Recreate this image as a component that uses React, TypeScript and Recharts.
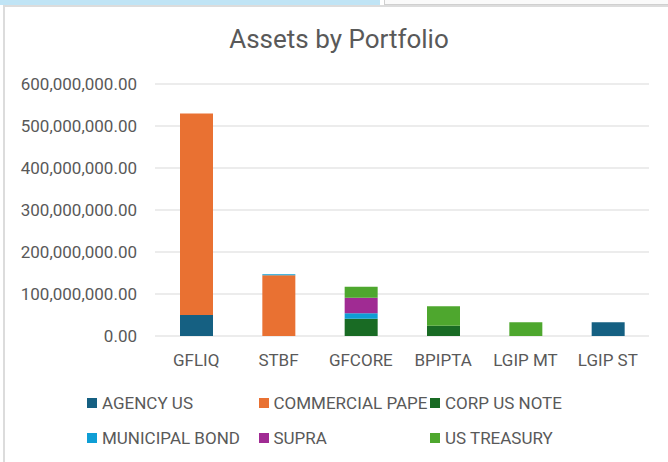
import React from "react";
import { BarChart, Bar, XAxis, YAxis, CartesianGrid } from "recharts";

const portfolios = ["GFLIQ", "STBF", "GFCORE", "BPIPTA", "LGIP MT", "LGIP ST"];
const agencyUS = [50000000, 0, 0, 0, 0, 33000000];
const commercialPaper = [480000000, 144500000, 0, 0, 0, 0];
const corpUSNote = [0, 0, 41000000, 24500000, 0, 0];
const municipalBond = [0, 2500000, 13000000, 0, 0, 0];
const supra = [0, 0, 37000000, 0, 0, 0];
const usTreasury = [0, 0, 26000000, 46500000, 33000000, 0];
const yTicks = [0, 100000000, 200000000, 300000000, 400000000, 500000000, 600000000];

const seriesDefs = [
  { key: "agency", name: "AGENCY US", values: agencyUS, color: "#156082" },
  { key: "commercial", name: "COMMERCIAL PAPE", values: commercialPaper, color: "#E97132" },
  { key: "corp", name: "CORP US NOTE", values: corpUSNote, color: "#196B24" },
  { key: "municipal", name: "MUNICIPAL BOND", values: municipalBond, color: "#0F9ED5" },
  { key: "supra", name: "SUPRA", values: supra, color: "#A02B93" },
  { key: "treasury", name: "US TREASURY", values: usTreasury, color: "#4EA72E" },
];

const data = portfolios.map((p, i) => {
  const row: Record<string, any> = { name: p };
  seriesDefs.forEach((s) => {
    row[s.key] = s.values[i];
  });
  return row;
});

const fmt = (v: number) =>
  v.toLocaleString("en-US", { minimumFractionDigits: 2, maximumFractionDigits: 2 });

const textColor = "#595959";
const font = "Roboto, 'Liberation Sans', sans-serif";

const LegendBlock = () => (
  <div style={{ position: "absolute", left: 0, top: 393, width: 668, height: 60, fontFamily: font }}>
    {seriesDefs.map((s, i) => {
      const col = i % 3;
      const row = Math.floor(i / 3);
      const left = 87 + col * 171.5;
      const top = row * 34.5;
      return (
        <div
          key={s.key}
          style={{
            position: "absolute",
            left,
            top,
            height: 20,
            display: "flex",
            alignItems: "center",
            whiteSpace: "nowrap",
          }}
        >
          <div style={{ width: 10, height: 10, background: s.color, marginRight: 5 }} />
          <span style={{ fontSize: 17, color: textColor, lineHeight: "20px" }}>{s.name}</span>
        </div>
      );
    })}
  </div>
);

export default function App() {
  return (
    <div style={{ position: "absolute", left: 0, top: 0, width: 668, height: 462, background: "#fff", overflow: "hidden" }}>
      <div style={{ position: "absolute", left: 0, top: 0, width: 380, height: 5, background: "#c0e4f5" }} />
      <div style={{ position: "absolute", left: 384, top: -2, width: 290, height: 5, border: "1px solid #d0d0d0", background: "#fafafa" }} />
      <div style={{ position: "absolute", left: 3, top: 5, width: 670, height: 460, borderTop: "2px solid #dcdcdc", borderLeft: "2px solid #dcdcdc" }} />
      <div
        style={{
          position: "absolute",
          left: 0,
          width: 678,
          top: 23,
          textAlign: "center",
          fontFamily: font,
          fontSize: 26,
          color: textColor,
          lineHeight: "32px",
        }}
      >
        Assets by Portfolio
      </div>
      <div style={{ position: "absolute", left: 0, top: 0 }}>
        <BarChart
          width={668}
          height={462}
          data={data}
          margin={{ top: 84, right: 19, bottom: 96, left: 0 }}
          barSize={33}
        >
          <CartesianGrid vertical={false} stroke="#d9d9d9" strokeWidth={1} />
          <XAxis
            dataKey="name"
            axisLine={false}
            tickLine={false}
            height={30}
            tickMargin={12}
            interval={0}
            tick={{ fill: textColor, fontSize: 17, fontFamily: font }}
          />
          <YAxis
            domain={[0, 600000000]}
            ticks={yTicks}
            axisLine={false}
            tickLine={false}
            width={155}
            tickMargin={12}
            tickFormatter={fmt}
            tick={{ fill: textColor, fontSize: 17, fontFamily: font }}
          />
          {seriesDefs.map((s) => (
            <Bar
              key={s.key}
              dataKey={s.key}
              name={s.name}
              stackId="a"
              fill={s.color}
              isAnimationActive={false}
            />
          ))}
        </BarChart>
      </div>
      <LegendBlock />
    </div>
  );
}
